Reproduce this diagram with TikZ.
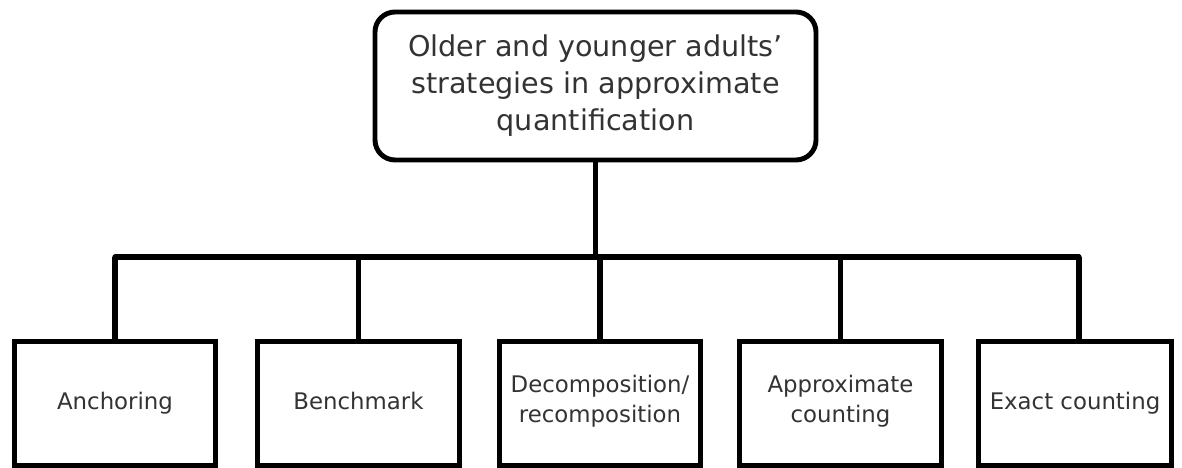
\documentclass[tikz,border=0pt]{standalone}
\usepackage{fontspec}
\setmainfont{DejaVu Sans}
\begin{document}
\tikzset{
    topbox/.style = {draw, line width = 2.8pt, rounded corners = 0.4cm, minimum width = 8.82cm, minimum height = 2.96cm, align = center, text = black!80, font = \fontsize{16.3}{21}\selectfont},
    leafbox/.style = {draw, line width = 2.8pt, minimum height = 2.48cm, align = center, text = black!80, font = \fontsize{13}{17}\selectfont, execute at begin node = \strut, execute at end node = \strut},
    branch/.style = {line width = 3pt}
}
\begin{tikzpicture}
        \useasboundingbox (0,0) rectangle (23.64,9.36);

        \node (top) at (11.91, 7.64) [topbox] {Older and younger adults’\\strategies in approximate\\quantification};

        \node (anch) at (2.30, 1.29) [leafbox, minimum width = 4.02cm] {Anchoring};
        \node (bench) at (7.17, 1.29) [leafbox, minimum width = 4.04cm] {Benchmark};
        \node (decomp) at (12.00, 1.29) [leafbox, minimum width = 4.02cm] {Decomposition/\\recomposition};
        \node (approx) at (16.81, 1.29) [leafbox, minimum width = 4.04cm] {Approximate\\counting};
        \node (exact) at (21.50, 1.29) [leafbox, minimum width = 3.86cm] {Exact counting};

        \coordinate (bus) at (0, 4.22);

        \draw [branch] (top.south) -- (top.south |- bus);
        \draw [branch, line cap = round] (anch.north |- bus) -- ([xshift = 0.08cm] exact.north |- bus);
        \draw [branch] (anch.north |- bus) -- (anch.north);
        \draw [branch] (bench.north |- bus) -- (bench.north);
        \draw [branch] (decomp.north |- bus) -- (decomp.north);
        \draw [branch] (approx.north |- bus) -- (approx.north);
        \draw [branch] ([xshift = 0.08cm] exact.north |- bus) -- ([xshift = 0.08cm] exact.north);

    \end{tikzpicture}
\end{document}
